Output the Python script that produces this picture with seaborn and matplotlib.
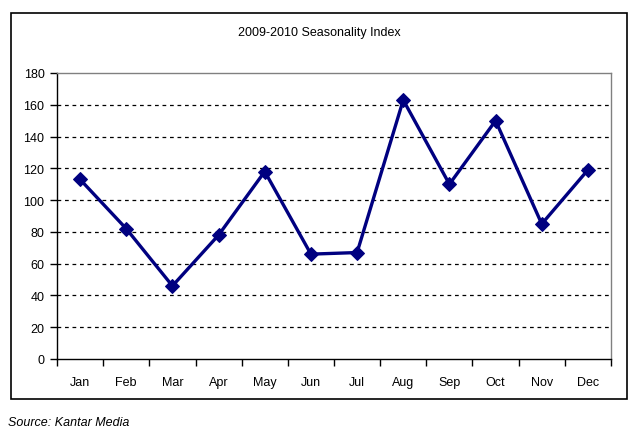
import pandas as pd
import numpy as np
import seaborn as sns
import matplotlib.pyplot as plt
from matplotlib.patches import Rectangle

months = ["Jan", "Feb", "Mar", "Apr", "May", "Jun",
          "Jul", "Aug", "Sep", "Oct", "Nov", "Dec"]
index_values = [113, 82, 46, 78, 118, 66, 67, 163, 110, 150, 85, 119]
y_ticks = [0, 20, 40, 60, 80, 100, 120, 140, 160, 180]

df = pd.DataFrame({"month": months, "index": index_values})

sns.set_style("white")
plt.rcParams["font.family"] = ["Liberation Sans", "DejaVu Sans"]
plt.rcParams["text.color"] = "black"
plt.rcParams["xtick.color"] = "black"
plt.rcParams["ytick.color"] = "black"

fig = plt.figure(figsize=(6.37, 4.39), dpi=100)
ax = fig.add_axes([57 / 637, 1 - 360 / 439, 554 / 637, 286 / 439])

# outer chart frame
fig.patches.append(Rectangle((11 / 637, 1 - 400 / 439), 616 / 637, 386 / 439,
                             transform=fig.transFigure, fill=False,
                             edgecolor="black", linewidth=1.2))

sns.lineplot(data=df, x="month", y="index", ax=ax, sort=False,
             color="#000080", linewidth=2.4, marker="D", markersize=7,
             markeredgecolor="#000080")

ax.set_xlim(-0.5, 11.5)
ax.set_ylim(0, 180)
ax.set_yticks(y_ticks)
ax.set_xticks(range(len(months)))
ax.set_xticklabels(months)
ax.set_xticks(np.arange(-0.5, 12, 1), minor=True)
ax.tick_params(axis="x", which="major", length=0, pad=12, labelsize=9,
               labelcolor="black")
ax.tick_params(axis="x", which="minor", length=5, width=1, color="black",
               direction="out", bottom=True)
ax.tick_params(axis="y", length=5, width=1, direction="out", left=True,
               labelsize=9, pad=4, labelcolor="black", color="black")
ax.set_xlabel("")
ax.set_ylabel("")

for v in y_ticks[1:-1]:
    ax.axhline(v, color="black", linestyle=(0, (3, 3)), linewidth=0.9,
               zorder=0)

ax.spines["left"].set_color("black")
ax.spines["bottom"].set_color("black")
ax.spines["top"].set_color("#808080")
ax.spines["right"].set_color("#808080")
for s in ax.spines.values():
    s.set_linewidth(1)

fig.text(0.5 * (11 + 627) / 637, 1 - 33 / 439, "2009-2010 Seasonality Index",
         ha="center", va="center", fontsize=9, color="black")
fig.text(8 / 637, 1 - 423 / 439, "Source: Kantar Media", ha="left",
         va="center", fontsize=9, style="italic", color="black")

fig.savefig("out.png", dpi=100)
